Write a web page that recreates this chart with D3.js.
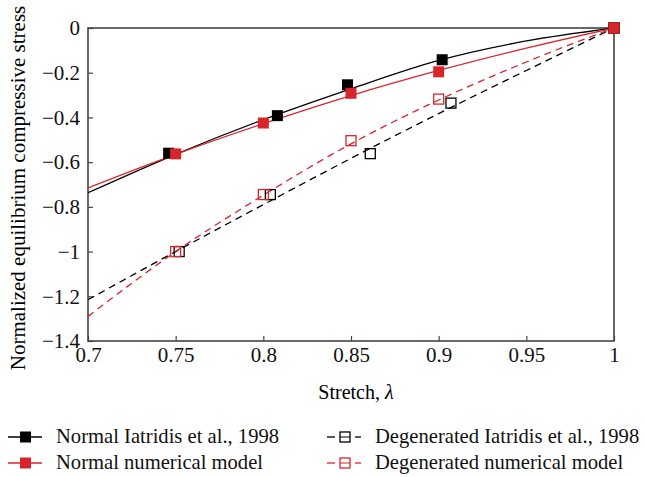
<!DOCTYPE html>
<html>
<head>
<meta charset="utf-8">
<script src="https://cdn.jsdelivr.net/npm/d3@7"></script>
<style>
  body { margin: 0; background: #fff; }
  text { font-family: "Liberation Serif", "DejaVu Serif", serif; }
</style>
</head>
<body>
<svg width="646" height="477"></svg>
<script>
// measured points
const normalExpX = [0.746, 0.808, 0.848, 0.902, 1.0];
const normalExpY = [-0.56, -0.392, -0.254, -0.142, 0];
const normalNumX = [0.75, 0.80, 0.85, 0.90, 1.0];
const normalNumY = [-0.563, -0.425, -0.292, -0.196, 0];
const degExpX = [0.752, 0.804, 0.861, 0.907, 1.0];
const degExpY = [-1.0, -0.745, -0.562, -0.336, 0];
const degNumX = [0.75, 0.80, 0.85, 0.90, 1.0];
const degNumY = [-1.0, -0.745, -0.504, -0.318, 0];

// trend curves
const curveX = [0.7, 0.75, 0.8, 0.85, 0.9, 0.95, 1.0];
const normalExpFit = [-0.737, -0.565, -0.41, -0.272, -0.145, -0.058, 0];
const normalNumFit = [-0.715, -0.565, -0.428, -0.302, -0.19, -0.09, 0];
const degExpFit = [-1.215, -1.0, -0.79, -0.583, -0.383, -0.19, 0];
const degNumFit = [-1.29, -1.0, -0.748, -0.518, -0.322, -0.152, 0];

const xTicks = [0.7, 0.75, 0.8, 0.85, 0.9, 0.95, 1];
const yTicks = [0, -0.2, -0.4, -0.6, -0.8, -1, -1.2, -1.4];

const RED = "#d7262b";
const margin = {top: 28, right: 32, bottom: 136, left: 88};
const width = 646 - margin.left - margin.right;
const height = 477 - margin.top - margin.bottom;

const svg = d3.select("svg");
const g = svg.append("g")
  .attr("transform", "translate(" + margin.left + "," + margin.top + ")");

const x = d3.scaleLinear().domain([0.7, 1]).range([0, width]);
const y = d3.scaleLinear().domain([-1.4, 0]).range([height, 0]);

const fmt = d => (d < 0 ? "\u2212" : "") + Math.abs(d);

// axes
g.append("g")
  .attr("transform", "translate(0," + height + ")")
  .call(d3.axisBottom(x).tickValues(xTicks).tickFormat(fmt).tickSizeInner(-5).tickSizeOuter(0).tickPadding(6))
  .call(a => a.select(".domain").remove());
g.append("g")
  .call(d3.axisLeft(y).tickValues(yTicks).tickFormat(fmt).tickSizeInner(-5).tickSizeOuter(0).tickPadding(8))
  .call(a => a.select(".domain").remove());
g.selectAll(".tick line").attr("stroke", "#444").attr("stroke-width", 1.2);
g.selectAll(".tick text").attr("font-size", 21).attr("fill", "#111")
  .style("font-family", '"Liberation Serif", serif');

// frame
g.append("rect")
  .attr("width", width).attr("height", height)
  .attr("fill", "none").attr("stroke", "#444").attr("stroke-width", 1.6);

g.append("clipPath").attr("id", "clip")
  .append("rect").attr("width", width).attr("height", height);

const line = d3.line()
  .x(d => x(d[0])).y(d => y(d[1]))
  .curve(d3.curveMonotoneX);

const curves = [
  {vals: degExpFit, color: "#000", dash: "7,5"},
  {vals: degNumFit, color: RED, dash: "7,5"},
  {vals: normalExpFit, color: "#000", dash: null},
  {vals: normalNumFit, color: RED, dash: null}
];
const plot = g.append("g").attr("clip-path", "url(#clip)");
curves.forEach(c => {
  plot.append("path")
    .datum(curveX.map((v, i) => [v, c.vals[i]]))
    .attr("d", line)
    .attr("fill", "none")
    .attr("stroke", c.color)
    .attr("stroke-width", 1.3)
    .attr("stroke-dasharray", c.dash);
});

const markerSets = [
  {xs: degExpX, ys: degExpY, color: "#000", filled: false},
  {xs: degNumX, ys: degNumY, color: RED, filled: false},
  {xs: normalExpX, ys: normalExpY, color: "#000", filled: true},
  {xs: normalNumX, ys: normalNumY, color: RED, filled: true}
];
markerSets.forEach(m => {
  const s = m.filled ? 11 : 10;
  g.append("g").selectAll("rect")
    .data(m.xs.map((v, i) => [v, m.ys[i]]))
    .join("rect")
    .attr("x", d => x(d[0]) - s / 2)
    .attr("y", d => y(d[1]) - s / 2)
    .attr("width", s).attr("height", s)
    .attr("fill", m.filled ? m.color : "none")
    .attr("stroke", m.color)
    .attr("stroke-width", m.filled ? 0 : 1.3);
});

// axis titles
svg.append("text")
  .attr("x", margin.left + width / 2 + 5).attr("y", 399)
  .attr("text-anchor", "middle").attr("font-size", 20)
  .html('Stretch, <tspan font-style="italic">\u03bb</tspan>');
svg.append("text")
  .attr("transform", "translate(25," + 188 + ") rotate(-90)")
  .attr("text-anchor", "middle").attr("font-size", 21)
  .text("Normalized equilibrium compressive stress");

// legend
const legend = [
  {label: "Normal Iatridis et al., 1998", color: "#000", filled: true, lx: 8, ly: 437},
  {label: "Normal numerical model", color: RED, filled: true, lx: 8, ly: 463},
  {label: "Degenerated Iatridis et al., 1998", color: "#000", filled: false, lx: 327, ly: 437},
  {label: "Degenerated numerical model", color: RED, filled: false, lx: 327, ly: 463}
];
const lg = svg.append("g");
legend.forEach(l => {
  const item = lg.append("g").attr("transform", "translate(" + l.lx + "," + l.ly + ")");
  if (l.filled) {
    item.append("line").attr("x1", 0).attr("x2", 34).attr("y1", 0).attr("y2", 0)
      .attr("stroke", l.color).attr("stroke-width", 1.3);
    item.append("rect").attr("x", 12).attr("y", -5.5).attr("width", 11).attr("height", 11)
      .attr("fill", l.color);
  } else {
    item.append("line").attr("x1", 0).attr("x2", 8).attr("y1", 0).attr("y2", 0)
      .attr("stroke", l.color).attr("stroke-width", 1.3);
    item.append("line").attr("x1", 28).attr("x2", 34).attr("y1", 0).attr("y2", 0)
      .attr("stroke", l.color).attr("stroke-width", 1.3);
    item.append("line").attr("x1", 13).attr("x2", 23).attr("y1", 0).attr("y2", 0)
      .attr("stroke", l.color).attr("stroke-width", 1);
    item.append("rect").attr("x", 13).attr("y", -5).attr("width", 10).attr("height", 10)
      .attr("fill", "none").attr("stroke", l.color).attr("stroke-width", 1.3);
  }
  item.append("text").attr("x", 48).attr("y", 6)
    .attr("font-size", 20.6).attr("fill", "#111").text(l.label);
});
</script>
</body>
</html>
